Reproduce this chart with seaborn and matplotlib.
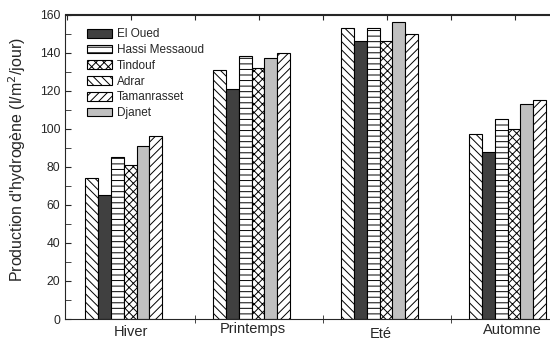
import seaborn as sns
import matplotlib.pyplot as plt
import numpy as np
import pandas as pd
from matplotlib.ticker import MultipleLocator
from matplotlib.transforms import ScaledTranslation

seasons = ['Hiver', 'Printemps', 'Eté', 'Automne']
# bar order inside each group
sites = ['Adrar', 'El Oued', 'Hassi Messaoud', 'Tindouf', 'Djanet', 'Tamanrasset']
adrar = [74, 131, 153, 97]
el_oued = [65, 121, 146, 88]
hassi = [85, 138, 153, 105]
tindouf = [81, 132, 146, 100]
djanet = [91, 137, 156, 113]
tamanrasset = [96, 140, 150, 115]
legend_order = ['El Oued', 'Hassi Messaoud', 'Tindouf', 'Adrar', 'Tamanrasset', 'Djanet']

values = [adrar, el_oued, hassi, tindouf, djanet, tamanrasset]
rows = []
for s, vals in zip(sites, values):
    for season, v in zip(seasons, vals):
        rows.append({'season': season, 'site': s, 'val': v})
df = pd.DataFrame(rows)

sns.set_style('ticks')
plt.rcParams['font.family'] = ['Liberation Sans', 'DejaVu Sans']
plt.rcParams['hatch.linewidth'] = 0.7

fig = plt.figure(figsize=(5.5, 3.4), dpi=100)
ax = fig.add_axes([65/550, 21/340, 491/550, 304.5/340])

palette = {'Adrar': 'white', 'El Oued': '#404040', 'Hassi Messaoud': 'white',
           'Tindouf': 'white', 'Djanet': '#c0c0c0', 'Tamanrasset': 'white'}
hatches = {'Adrar': '\\\\\\\\', 'El Oued': '', 'Hassi Messaoud': '---',
           'Tindouf': 'xxxx', 'Djanet': '', 'Tamanrasset': '////'}

sns.barplot(data=df, x='season', y='val', hue='site', hue_order=sites,
            order=seasons, palette=palette, width=0.6, saturation=1,
            edgecolor='black', linewidth=0.8, legend=False, ax=ax)

for site, cont in zip(sites, ax.containers):
    for p in cont.patches:
        p.set_hatch(hatches[site])

handles = [ax.containers[sites.index(s)].patches[0] for s in legend_order]
ax.legend(handles, legend_order, loc='upper left', bbox_to_anchor=(0.035, 0.97),
          borderaxespad=0, frameon=False, fontsize=8.5, handlelength=2.1,
          handleheight=0.76, labelspacing=0.32, handletextpad=0.42)

ax.set_ylim(0, 160)
ax.set_xlim(-0.459, 3.378)
ax.yaxis.set_major_locator(MultipleLocator(20))
ax.yaxis.set_minor_locator(MultipleLocator(10))
ax.tick_params(axis='y', which='both', direction='in', length=4, labelsize=8.7)

# season labels sit slightly off the group centres, at uneven heights
ax.set_xticks([0.06, 1.01, 2.01, 3.04])
ax.set_xticklabels(seasons, fontsize=10.5)
ax.set_xticks([0.557, 1.557, 2.557], minor=True)
ax.tick_params(axis='x', which='major', length=0, pad=4)
ax.tick_params(axis='x', which='minor', direction='inout', length=6)
for lab, dy in zip(ax.get_xticklabels(), [0, 2.2, -1.6, 1.4]):
    lab.set_transform(lab.get_transform() + ScaledTranslation(0, dy / 72, fig.dpi_scale_trans))

top = ax.secondary_xaxis('top')
top.set_xticks([i * 0.5 + 0.057 for i in range(-1, 8)])
top.tick_params(direction='in', length=4, labeltop=False)

ax.set_xlabel('')
ax.set_ylabel("Production d'hydrogène (l/m$^2$/jour)", fontsize=11.5)
ax.yaxis.set_label_coords(-0.075, 0.525)
ax.spines['right'].set_visible(False)

fig.savefig('out.png', dpi=100)
